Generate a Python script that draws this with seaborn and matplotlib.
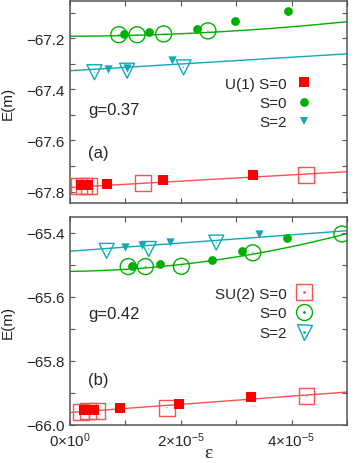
import numpy as np
import pandas as pd
import matplotlib
matplotlib.use("Agg")
import matplotlib.pyplot as plt
from matplotlib.lines import Line2D
from matplotlib.legend_handler import HandlerTuple
from matplotlib.ticker import MultipleLocator, FuncFormatter
import seaborn as sns

# ---------------- data (epsilon in units of 1e-5) ----------------
EPS_UNIT = 1e-5

# panel (a), g = 0.37
a_red_fill_eps = [0.20, 0.32, 0.66, 1.67, 3.30]
a_red_fill_E = [-67.776, -67.776, -67.771, -67.756, -67.736]
a_red_open_eps = [0.16, 0.25, 0.34, 1.32, 4.26]
a_red_open_E = [-67.780, -67.780, -67.780, -67.768, -67.734]
a_grn_fill_eps = [0.97, 1.42, 2.30, 2.98, 3.94]
a_grn_fill_E = [-67.183, -67.177, -67.164, -67.133, -67.093]
a_grn_open_eps = [0.88, 1.21, 1.69, 2.49]
a_grn_open_E = [-67.186, -67.186, -67.183, -67.171]
a_cyn_fill_eps = [0.68, 1.03, 1.84]
a_cyn_fill_E = [-67.321, -67.315, -67.286]
a_cyn_open_eps = [0.44, 1.03, 2.05]
a_cyn_open_E = [-67.333, -67.327, -67.314]
# fit curves E = E0 + c1*eps + c2*eps^2
a_red_fit = [-67.784, 0.0123, 0.0]
a_grn_fit = [-67.192, 0.0006, 0.00216]
a_cyn_fit = [-67.327, 0.0132, 0.0]

# panel (b), g = 0.42
b_red_fill_eps = [0.26, 0.44, 0.91, 1.96, 3.27]
b_red_fill_E = [-65.954, -65.954, -65.948, -65.934, -65.914]
b_red_open_eps = [0.20, 0.33, 0.49, 1.75, 4.27]
b_red_open_E = [-65.959, -65.957, -65.957, -65.946, -65.909]
b_grn_fill_eps = [1.11, 1.63, 2.56, 3.11, 3.91]
b_grn_fill_E = [-65.502, -65.497, -65.484, -65.455, -65.416]
b_grn_open_eps = [1.05, 1.36, 2.01, 3.30, 4.91]
b_grn_open_E = [-65.505, -65.505, -65.504, -65.462, -65.403]
b_cyn_fill_eps = [1.00, 1.29, 1.81, 3.42]
b_cyn_fill_E = [-65.445, -65.438, -65.427, -65.403]
b_cyn_open_eps = [0.66, 1.42, 2.64]
b_cyn_open_E = [-65.456, -65.450, -65.430]
b_red_fit = [-65.961, 0.0128, 0.0]
b_grn_fit = [-65.520, 0.0022, 0.00428]
b_cyn_fit = [-65.457, 0.0128, 0.0]

x_tick_labels = [r"$\mathregular{0{\times}10^{0}}$", r"$\mathregular{2{\times}10^{-5}}$",
                 r"$\mathregular{4{\times}10^{-5}}$"]
legend_a = ["U(1) S=0", "S=0", "S=2"]
legend_b = ["SU(2) S=0", "S=0", "S=2"]

# ---------------- style ----------------
sns.set_style("ticks")
plt.rcParams["font.family"] = ["Liberation Sans", "DejaVu Sans"]
plt.rcParams["mathtext.fontset"] = "custom"
plt.rcParams["mathtext.rm"] = "Liberation Sans"
plt.rcParams["mathtext.it"] = "Liberation Sans:italic"
FS = 11

RED = "#ff0000"
RED_L = "#ff5050"
GRN = "#00b000"
CYN = "#10a8b4"
SPINE = "#555555"

fig = plt.figure(figsize=(3.54, 4.64), dpi=100)
ax_a = fig.add_axes([0.198, 0.5603, 0.782, 0.4354])
ax_b = fig.add_axes([0.198, 0.0819, 0.782, 0.4483])

grid = np.linspace(0, 5.0, 200)


def fit_curve(ax, coef, color):
    df = pd.DataFrame({"x": grid * EPS_UNIT,
                       "y": coef[0] + coef[1] * grid + coef[2] * grid ** 2})
    sns.lineplot(data=df, x="x", y="y", ax=ax, color=color, lw=1.0,
                 estimator=None, sort=False, legend=False)


def pts(ax, eps, E, marker, color, ms, filled, lw=1.0):
    df = pd.DataFrame({"x": np.array(eps) * EPS_UNIT, "y": E})
    if filled:
        sns.scatterplot(data=df, x="x", y="y", ax=ax, marker=marker, s=ms ** 2,
                        facecolor=color, edgecolor=color, linewidth=0, zorder=4,
                        legend=False)
    else:
        sns.scatterplot(data=df, x="x", y="y", ax=ax, marker=marker, s=ms ** 2,
                        facecolor="none", edgecolor=color, linewidth=lw, zorder=3,
                        legend=False)
        sns.scatterplot(data=df, x="x", y="y", ax=ax, marker="o", s=0.8,
                        facecolor=color, edgecolor="none", linewidth=0, zorder=3,
                        legend=False)


def panel(ax, d, label, tag, ylim, legend_labels, legend_open, leg_y):
    fit_curve(ax, d["red_fit"], RED_L)
    fit_curve(ax, d["grn_fit"], GRN)
    fit_curve(ax, d["cyn_fit"], CYN)
    pts(ax, d["red_open_eps"], d["red_open_E"], "s", RED_L, 11.5, False)
    pts(ax, d["grn_open_eps"], d["grn_open_E"], "o", GRN, 11.5, False)
    pts(ax, d["cyn_open_eps"], d["cyn_open_E"], "v", CYN, 10.8, False)
    pts(ax, d["red_fill_eps"], d["red_fill_E"], "s", RED, 7.2, True)
    pts(ax, d["grn_fill_eps"], d["grn_fill_E"], "o", GRN, 6.3, True)
    pts(ax, d["cyn_fill_eps"], d["cyn_fill_E"], "v", CYN, 6.0, True)

    ax.set_xlim(0, 5e-5)
    ax.set_ylim(*ylim)
    ax.xaxis.set_major_locator(MultipleLocator(1e-5))
    ax.yaxis.set_major_locator(MultipleLocator(0.1))
    ax.yaxis.set_major_formatter(FuncFormatter(
        lambda v, p: (f"{v:.1f}".replace("-", "\u2212")) if round(v * 10) % 2 == 0 else ""))
    ax.tick_params(direction="in", top=True, right=True, length=3.5, width=0.8,
                   color=SPINE, labelsize=FS, pad=4)
    for s in ax.spines.values():
        s.set_color(SPINE)
        s.set_linewidth(1.1)
    ax.set_ylabel("E(m)", fontsize=FS)
    ax.yaxis.set_label_coords(-0.2, 0.5)
    ax.set_xlabel("")
    ax.text(0.065, label[1], label[0], transform=ax.transAxes, fontsize=FS + 1,
            va="center", ha="left")
    ax.text(0.065, tag[1], tag[0], transform=ax.transAxes, fontsize=FS + 1,
            va="center", ha="left")

    if legend_open:
        hs = [(Line2D([], [], ls="", marker="s", ms=11.5, mfc="none", mec=RED_L, mew=1.0),
               Line2D([], [], ls="", marker="o", ms=1, color=RED_L)),
              (Line2D([], [], ls="", marker="o", ms=11.5, mfc="none", mec=GRN, mew=1.0),
               Line2D([], [], ls="", marker="o", ms=1, color=GRN)),
              (Line2D([], [], ls="", marker="v", ms=10.8, mfc="none", mec=CYN, mew=1.0),
               Line2D([], [], ls="", marker="o", ms=1, color=CYN))]
        spacing = 0.38
    else:
        hs = [Line2D([], [], ls="", marker="s", ms=7.2, color=RED, mew=0),
              Line2D([], [], ls="", marker="o", ms=6.3, color=GRN, mew=0),
              Line2D([], [], ls="", marker="v", ms=6.0, color=CYN, mew=0)]
        spacing = 0.35
    ax.legend(hs, legend_labels, loc="upper right", bbox_to_anchor=(0.872, leg_y),
              frameon=False, markerfirst=False, fontsize=FS, handlelength=1.0,
              handletextpad=0.6, labelspacing=spacing, borderpad=0, borderaxespad=0,
              handler_map={tuple: HandlerTuple(ndivide=1, pad=0)})


da = dict(red_fill_eps=a_red_fill_eps, red_fill_E=a_red_fill_E,
          red_open_eps=a_red_open_eps, red_open_E=a_red_open_E,
          grn_fill_eps=a_grn_fill_eps, grn_fill_E=a_grn_fill_E,
          grn_open_eps=a_grn_open_eps, grn_open_E=a_grn_open_E,
          cyn_fill_eps=a_cyn_fill_eps, cyn_fill_E=a_cyn_fill_E,
          cyn_open_eps=a_cyn_open_eps, cyn_open_E=a_cyn_open_E,
          red_fit=a_red_fit, grn_fit=a_grn_fit, cyn_fit=a_cyn_fit)
db = dict(red_fill_eps=b_red_fill_eps, red_fill_E=b_red_fill_E,
          red_open_eps=b_red_open_eps, red_open_E=b_red_open_E,
          grn_fill_eps=b_grn_fill_eps, grn_fill_E=b_grn_fill_E,
          grn_open_eps=b_grn_open_eps, grn_open_E=b_grn_open_E,
          cyn_fill_eps=b_cyn_fill_eps, cyn_fill_E=b_cyn_fill_E,
          cyn_open_eps=b_cyn_open_eps, cyn_open_E=b_cyn_open_E,
          red_fit=b_red_fit, grn_fit=b_grn_fit, cyn_fit=b_cyn_fit)

panel(ax_a, da, ("g=0.37", 0.465), ("(a)", 0.252), (-67.845, -67.054),
      legend_a, False, 0.626)
panel(ax_b, db, ("g=0.42", 0.538), ("(b)", 0.221), (-66.0, -65.35),
      legend_b, True, 0.665)

ax_a.set_xticklabels([])
ax_b.xaxis.set_major_formatter(FuncFormatter(
    lambda v, p: {0: x_tick_labels[0], 2: x_tick_labels[1], 4: x_tick_labels[2]}.get(
        int(round(v / EPS_UNIT)), "")))
ax_b.set_xlabel("\u03b5", fontsize=FS + 3, family=["Liberation Serif", "DejaVu Serif"])
ax_b.xaxis.set_label_coords(0.5, -0.09)

fig.savefig("out.png", dpi=100)
